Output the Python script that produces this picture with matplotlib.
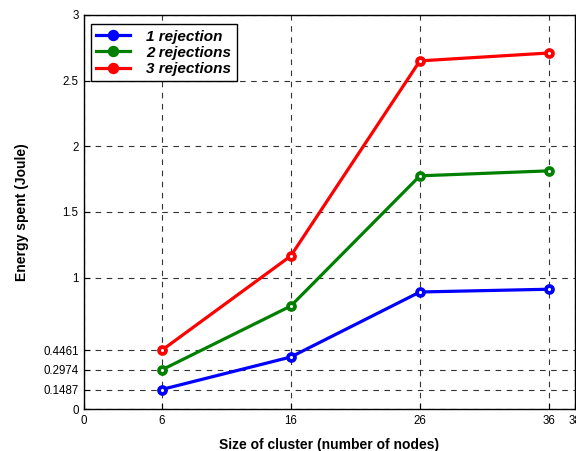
import numpy as np
import matplotlib
matplotlib.use("Agg")
import matplotlib.pyplot as plt

plt.rcParams['font.family'] = ['Liberation Sans', 'DejaVu Sans']

# data
cluster_size = [6, 16, 26, 36]
rej1 = [0.1487, 0.396, 0.891, 0.912]
rej2 = [0.2974, 0.784, 1.775, 1.813]
rej3 = [0.4461, 1.165, 2.65, 2.71]
labels = ['1 rejection', '2 rejections', '3 rejections']
colors = ['#0000ff', '#008000', '#ff0000']

xticks = [0, 6, 16, 26, 36, 38]
yticks = [0, 0.1487, 0.2974, 0.4461, 1, 1.5, 2, 2.5, 3]
ytick_labels = ['0', '0.1487', '0.2974', '0.4461', '1', '1.5', '2', '2.5', '3']

fig = plt.figure(figsize=(5.76, 4.51), dpi=100)
ax = fig.add_axes([0.146, 0.093, 0.852, 0.874])

for ys, lab, c in zip([rej1, rej2, rej3], labels, colors):
    ax.plot(cluster_size, ys, color=c, lw=2.3, marker='o', ms=5.0,
            mfc='white', mec=c, mew=2.7, label=lab, zorder=3)

ax.set_xlim(0, 38)
ax.set_ylim(0, 3)
ax.set_xticks(xticks)
ax.set_xticklabels([str(t) for t in xticks])
ax.set_yticks(yticks)
ax.set_yticklabels(ytick_labels)
ax.tick_params(direction='in', length=4, labelsize=8.3, width=0.8, pad=4)

# dashed grid, matlab style
ax.grid(True, ls=(0, (5, 5)), color='#333333', lw=0.8)
ax.set_axisbelow(True)

for s in ax.spines.values():
    s.set_linewidth(1.0)

ax.set_xlabel('Size of cluster (number of nodes)', fontsize=10, fontweight='bold', labelpad=8)
ax.set_ylabel('Energy spent (Joule)', fontsize=10, fontweight='bold', labelpad=10)

leg = ax.legend(loc='upper left', bbox_to_anchor=(0.004, 0.988), fancybox=False,
                edgecolor='black', framealpha=1, borderaxespad=0.3,
                handlelength=2.2, handletextpad=1.1, labelspacing=0.15,
                borderpad=0.35, markerscale=1.1,
                prop={'weight': 'bold', 'style': 'italic', 'size': 11})
leg.get_frame().set_linewidth(1.0)
for h in leg.legend_handles:
    h.set_markerfacecolor(h.get_color())

fig.savefig('out.png', dpi=100)
